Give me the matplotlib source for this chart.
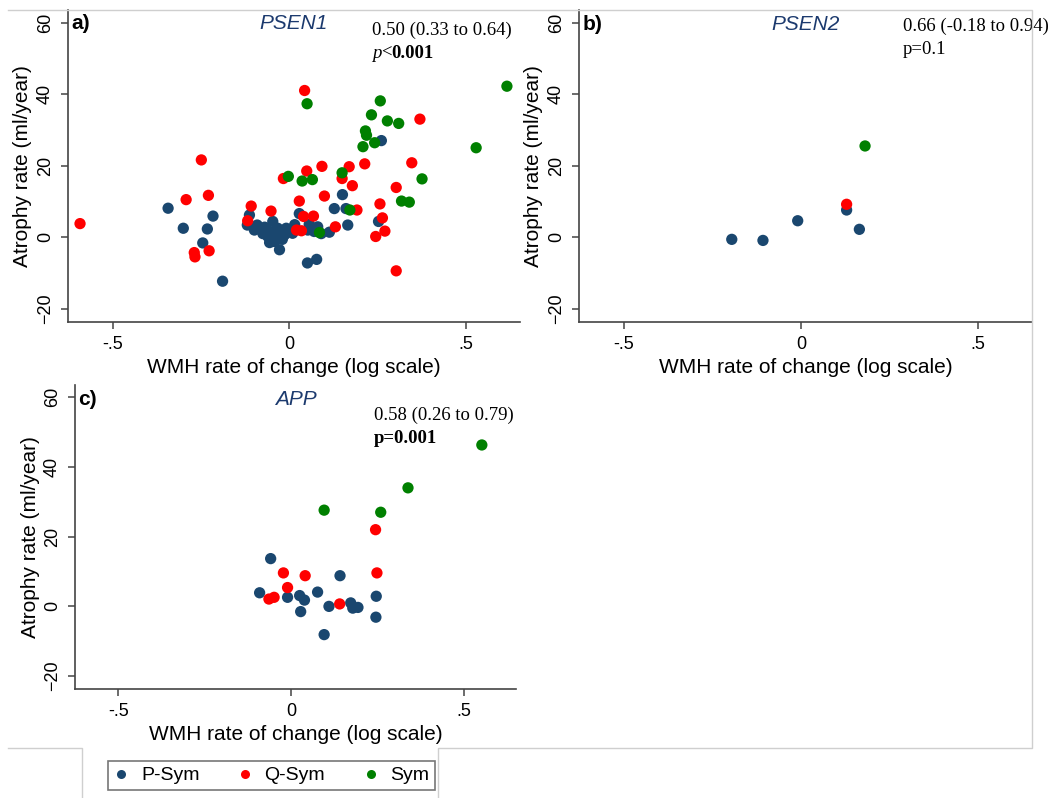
import matplotlib
matplotlib.use("Agg")
import matplotlib.pyplot as plt
from matplotlib.lines import Line2D

plt.rcParams["font.family"] = ["Liberation Sans", "DejaVu Sans"]

# PSEN1 carriers: WMH log rate of change vs atrophy rate
psen1_psym_x = [-0.343, -0.300, -0.232, -0.216, -0.245, -0.189, -0.113, -0.119, -0.091, -0.099,
                -0.047, -0.056, -0.033, -0.009, -0.061, -0.038, -0.014, 0.009, -0.056, -0.028,
                -0.042, -0.070, -0.020, 0.000, 0.028, 0.052, 0.056, 0.070, 0.080, 0.090,
                0.113, 0.127, 0.150, 0.160, 0.165, 0.051, 0.077, 0.252, 0.260, -0.075, 0.015]
psen1_psym_y = [8.1, 2.5, 2.3, 5.9, -1.6, -12.3, 6.2, 3.4, 3.4, 2.0,
                4.4, 1.6, 2.5, 2.5, 0.2, 0.2, 0.6, 1.1, -1.5, -3.5,
                -1.2, 2.8, -0.6, 1.8, 6.6, 2.0, 3.6, 1.6, 2.9, 1.0,
                1.4, 8.0, 11.9, 8.0, 3.4, -7.2, -6.2, 4.4, 27.0, 1.0, 3.5]
psen1_qsym_x = [-0.592, 0.043, -0.249, -0.292, -0.229, -0.269, -0.267, -0.227, -0.108, -0.118,
                -0.052, -0.017, 0.049, 0.092, 0.028, 0.040, 0.068, 0.020, 0.034, 0.099,
                0.130, 0.149, 0.169, 0.178, 0.191, 0.213, 0.256, 0.263, 0.244, 0.270,
                0.302, 0.302, 0.346, 0.369]
psen1_qsym_y = [3.8, 41.0, 21.6, 10.5, 11.7, -4.3, -5.5, -3.8, 8.7, 4.6,
                7.3, 16.4, 18.5, 19.8, 10.1, 5.8, 5.9, 2.0, 1.8, 11.5,
                2.9, 16.4, 19.7, 14.4, 7.6, 20.5, 9.3, 5.4, 0.2, 1.7,
                13.9, -9.4, 20.8, 33.0]
psen1_sym_x = [0.615, 0.050, 0.257, 0.232, 0.277, 0.309, 0.215, 0.218, 0.241, 0.208,
               0.528, -0.003, 0.036, 0.065, 0.149, 0.375, 0.317, 0.339, 0.171, 0.085]
psen1_sym_y = [42.2, 37.3, 38.1, 34.2, 32.5, 31.8, 29.7, 28.5, 26.4, 25.3,
               25.0, 17.0, 15.7, 16.1, 18.0, 16.3, 10.1, 9.8, 7.6, 1.3]

# PSEN2 carriers
psen2_psym_x = [-0.195, -0.107, -0.009, 0.129, 0.165]
psen2_psym_y = [-0.6, -0.9, 4.6, 7.6, 2.2]
psen2_qsym_x = [0.129]
psen2_qsym_y = [9.2]
psen2_sym_x = [0.181]
psen2_sym_y = [25.5]

# APP carriers
app_psym_x = [-0.059, -0.091, -0.010, 0.025, 0.039, 0.028, 0.077, 0.110, 0.142, 0.173,
              0.179, 0.194, 0.247, 0.246, 0.096]
app_psym_y = [13.7, 3.9, 2.6, 3.1, 1.8, -1.5, 4.1, 0.0, 8.8, 1.0,
              -0.5, -0.3, 2.9, -3.1, -8.1]
app_qsym_x = [0.245, 0.249, -0.022, 0.041, -0.010, -0.064, -0.049, 0.141]
app_qsym_y = [22.0, 9.6, 9.6, 8.8, 5.4, 2.1, 2.6, 0.7]
app_sym_x = [0.553, 0.339, 0.096, 0.260]
app_sym_y = [46.3, 34.0, 27.6, 27.0]

groups = ["P-Sym", "Q-Sym", "Sym"]
group_colors = ["#1a476f", "#ff0000", "#008000"]

x_ticks = [-0.5, 0, 0.5]
x_tick_labels = ["-.5", "0", ".5"]
y_ticks = [-20, 0, 20, 40, 60]

W, H = 1054, 798
AXIS_COLOR = "#444444"
SERIF = ["Liberation Serif", "DejaVu Serif"]


def draw_panel(ax, series, letter, gene, stat_text, p_parts, stat_pos, title_y):
    for (xs, ys), color in zip(series, group_colors):
        ax.scatter(xs, ys, s=66, color=color, edgecolors="none", zorder=3)

    ax.set_xlim(-0.626, 0.652)
    ax.set_ylim(-23.7, 63.5)
    ax.set_xticks(x_ticks)
    ax.set_xticklabels(x_tick_labels)
    ax.set_yticks(y_ticks)
    for lab in ax.get_yticklabels():
        lab.set_rotation(90)
        lab.set_va("center")

    for side in ["top", "right"]:
        ax.spines[side].set_visible(False)
    for side in ["left", "bottom"]:
        ax.spines[side].set_color(AXIS_COLOR)
        ax.spines[side].set_linewidth(1.2)
    ax.tick_params(axis="both", colors=AXIS_COLOR, labelcolor="black", labelsize=13,
                   length=5, width=1.1, pad=5)

    ax.set_xlabel("WMH rate of change (log scale)", fontsize=15, labelpad=4)
    ax.set_ylabel("Atrophy rate (ml/year)", fontsize=15)
    ax.yaxis.set_label_coords(-0.08, 0.5)

    ax.text(0.007, title_y, letter, transform=ax.transAxes, fontsize=15,
            fontweight="bold", ha="left", va="center")
    ax.text(0.5, title_y, gene, transform=ax.transAxes, fontsize=15,
            fontstyle="italic", color="#1c3a6e", ha="center", va="center")

    sx, sy1, sy2 = stat_pos
    ax.text(sx, sy1, stat_text, transform=ax.transAxes, family=SERIF,
            fontsize=13.5, ha="left", va="center", clip_on=False)

    # p-value line built from pieces with their own style
    txt, style, weight = p_parts[0]
    prev = ax.text(sx, sy2, txt, transform=ax.transAxes, family=SERIF, fontsize=13.5,
                   fontstyle=style, fontweight=weight, ha="left", va="center")
    for txt, style, weight in p_parts[1:]:
        prev = ax.annotate(txt, xy=(1, 0), xycoords=prev, family=SERIF, fontsize=13.5,
                           fontstyle=style, fontweight=weight, ha="left", va="bottom")


fig = plt.figure(figsize=(W / 100, H / 100), dpi=100)
fig.patch.set_facecolor("white")


def axes_rect(left, top, right, bottom):
    return [left / W, 1 - bottom / H, (right - left) / W, (bottom - top) / H]


ax_a = fig.add_axes(axes_rect(68, 10, 520, 322))
ax_b = fig.add_axes(axes_rect(579, 10, 1032, 322))
ax_c = fig.add_axes(axes_rect(75, 385, 516, 689))

draw_panel(ax_a,
           [(psen1_psym_x, psen1_psym_y), (psen1_qsym_x, psen1_qsym_y), (psen1_sym_x, psen1_sym_y)],
           "a)", "PSEN1", "0.50 (0.33 to 0.64)",
           [("p", "italic", "normal"), ("<", "normal", "normal"), ("0.001", "normal", "bold")],
           (0.672, 0.934, 0.862), 0.958)
draw_panel(ax_b,
           [(psen2_psym_x, psen2_psym_y), (psen2_qsym_x, psen2_qsym_y), (psen2_sym_x, psen2_sym_y)],
           "b)", "PSEN2", "0.66 (-0.18 to 0.94)",
           [("p=0.1", "normal", "normal")],
           (0.715, 0.947, 0.873), 0.955)
draw_panel(ax_c,
           [(app_psym_x, app_psym_y), (app_qsym_x, app_qsym_y), (app_sym_x, app_sym_y)],
           "c)", "APP", "0.58 (0.26 to 0.79)",
           [("p=0.001", "normal", "bold")],
           (0.677, 0.90, 0.825), 0.952)

# light outline of the combined graph region
frame = [
    [(8, 10), (1032, 10), (1032, 748), (438, 748), (438, 798)],
    [(8, 748), (82, 748), (82, 798)],
]
for path in frame:
    xs = [p[0] / W for p in path]
    ys = [1 - p[1] / H for p in path]
    fig.add_artist(Line2D(xs, ys, transform=fig.transFigure, color="#cfcfcf", lw=1.0))

handles = [Line2D([], [], marker="o", linestyle="none", markersize=6.5,
                  markerfacecolor=c, markeredgecolor="none") for c in group_colors]
leg = fig.legend(handles, groups, loc="center",
                 bbox_to_anchor=((109 + 434) / 2 / W, 1 - 775.5 / H),
                 ncol=3, fontsize=14, frameon=True, fancybox=False,
                 handlelength=0.8, handletextpad=0.6, columnspacing=1.95,
                 borderpad=0.3, borderaxespad=0)
leg.get_frame().set_edgecolor("#555555")
leg.get_frame().set_linewidth(1.2)

fig.savefig("out.png", dpi=100)
